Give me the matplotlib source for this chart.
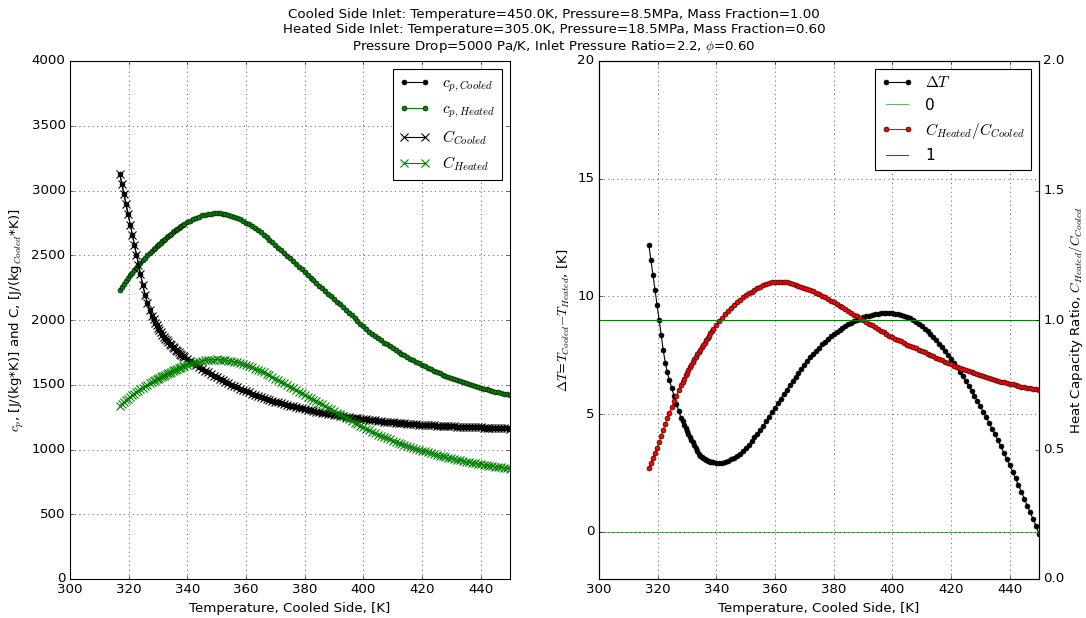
import matplotlib
matplotlib.use('Agg')
import matplotlib.pyplot as plt

plt.style.use('classic')

# temperature on the cooled side, [K]
temperature = [
    317.0, 317.7, 318.4, 319.1, 319.8, 320.5, 321.2, 321.9, 322.6, 323.3,
    324.0, 324.8, 325.6, 326.4, 327.2,
    328, 328.5, 329, 329.5, 330, 330.5, 331, 331.5, 332, 332.5,
    333, 333.5, 334, 334.5, 335, 335.5, 336, 336.5, 337, 337.5,
    338, 338.5, 339,
    340, 341, 342, 343, 344, 345, 346, 347, 348, 349,
    350, 351, 352, 353, 354, 355, 356, 357, 358, 359,
    360, 361, 362, 363, 364, 365, 366, 367, 368, 369,
    370, 371, 372, 373, 374, 375, 376, 377, 378, 379,
    380, 381, 382, 383, 384, 385, 386, 387, 388, 389,
    390, 391, 392, 393, 394, 395, 396, 397, 398, 399,
    400, 401, 402, 403, 404, 405, 406, 407, 408, 409,
    410, 411, 412, 413, 414, 415, 416, 417, 418, 419,
    420, 421, 422, 423, 424, 425, 426, 427, 428, 429,
    430, 431, 432, 433, 434, 435, 436, 437, 438, 439,
    440, 441, 442, 443, 444, 445, 446, 447, 448, 449,
    450]

cp_cooled = [
    3125, 3048, 2970, 2893, 2815, 2737, 2660, 2582, 2505, 2428,
    2352, 2270, 2195, 2130, 2075,
    2030, 2004, 1980, 1959, 1940, 1922, 1905, 1888, 1872, 1857,
    1843, 1830, 1817, 1805, 1793, 1782, 1771, 1760, 1750, 1740,
    1730, 1721, 1712,
    1696, 1680, 1665, 1650, 1636, 1622, 1609, 1595, 1582, 1569,
    1557, 1545, 1534, 1522, 1511, 1500, 1490, 1480, 1470, 1460,
    1450, 1441, 1432, 1423, 1414, 1406, 1398, 1391, 1383, 1376,
    1369, 1363, 1356, 1350, 1344, 1338, 1333, 1327, 1322, 1317,
    1312, 1307, 1302, 1298, 1293, 1288, 1284, 1280, 1276, 1272,
    1268, 1264, 1260, 1257, 1254, 1250, 1247, 1244, 1241, 1238,
    1235, 1232, 1229, 1226, 1224, 1221, 1219, 1216, 1214, 1212,
    1210, 1208, 1206, 1204, 1202, 1200, 1198, 1197, 1195, 1193,
    1192, 1191, 1189, 1188, 1187, 1185, 1184, 1183, 1181, 1180,
    1179, 1178, 1177, 1176, 1175, 1174, 1173, 1172, 1172, 1171,
    1170, 1169, 1168, 1167, 1167, 1166, 1165, 1164, 1164, 1163,
    1162]

cp_heated = [
    2232, 2255, 2278, 2300, 2322, 2344, 2365, 2385, 2405, 2424,
    2443, 2463, 2482, 2500, 2518,
    2536, 2547, 2557, 2568, 2578, 2588, 2598, 2608, 2618, 2628,
    2638, 2648, 2657, 2667, 2676, 2685, 2694, 2703, 2711, 2719,
    2727, 2735, 2742,
    2756, 2768, 2780, 2790, 2799, 2807, 2813, 2818, 2822, 2824,
    2825, 2824, 2821, 2817, 2812, 2806, 2798, 2789, 2778, 2765,
    2752, 2738, 2723, 2708, 2692, 2676, 2659, 2640, 2620, 2600,
    2580, 2559, 2538, 2517, 2496, 2475, 2454, 2432, 2411, 2390,
    2370, 2349, 2328, 2308, 2287, 2266, 2246, 2225, 2204, 2184,
    2163, 2142, 2120, 2099, 2078, 2056, 2035, 2014, 1992, 1971,
    1950, 1930, 1911, 1893, 1875, 1858, 1842, 1826, 1811, 1796,
    1782, 1768, 1754, 1740, 1727, 1714, 1702, 1689, 1677, 1665,
    1653, 1642, 1631, 1620, 1609, 1599, 1589, 1579, 1569, 1560,
    1551, 1543, 1534, 1526, 1518, 1510, 1503, 1496, 1489, 1482,
    1476, 1470, 1464, 1458, 1452, 1447, 1441, 1436, 1431, 1425,
    1420]

# mass fraction of the cooled side is 1.00, so C equals cp there
C_cooled = list(cp_cooled)

C_heated = [
    1339, 1353, 1367, 1380, 1393, 1406, 1419, 1431, 1443, 1454,
    1466, 1478, 1489, 1500, 1511,
    1522, 1528, 1534, 1541, 1547, 1553, 1559, 1565, 1571, 1577,
    1583, 1589, 1594, 1600, 1606, 1611, 1616, 1622, 1627, 1631,
    1636, 1641, 1645,
    1654, 1661, 1668, 1674, 1679, 1684, 1688, 1691, 1693, 1694,
    1695, 1694, 1693, 1690, 1687, 1684, 1679, 1673, 1667, 1659,
    1651, 1643, 1634, 1625, 1615, 1606, 1595, 1584, 1572, 1560,
    1548, 1535, 1523, 1510, 1498, 1485, 1472, 1459, 1447, 1434,
    1422, 1409, 1397, 1385, 1372, 1360, 1348, 1335, 1322, 1310,
    1298, 1285, 1272, 1259, 1247, 1234, 1221, 1208, 1195, 1183,
    1170, 1158, 1147, 1136, 1125, 1115, 1105, 1096, 1087, 1078,
    1069, 1061, 1052, 1044, 1036, 1028, 1021, 1013, 1006, 999,
    992, 985, 979, 972, 965, 959, 953, 947, 941, 936,
    931, 926, 920, 916, 911, 906, 902, 898, 893, 889,
    886, 882, 878, 875, 871, 868, 865, 862, 859, 855,
    852]

delta_T = [
    12.18, 11.55, 10.90, 10.28, 9.63, 9.00, 8.35, 7.72, 7.18, 6.78,
    6.45, 6.10, 5.77, 5.44, 5.12,
    4.84, 4.69, 4.55, 4.42, 4.30, 4.17, 4.05, 3.92, 3.80, 3.67,
    3.55, 3.42, 3.30, 3.23, 3.17, 3.12, 3.08, 3.05, 3.02, 3.00,
    2.98, 2.96, 2.95,
    2.93, 2.92, 2.94, 2.98, 3.03, 3.09, 3.16, 3.24, 3.33, 3.44,
    3.56, 3.70, 3.85, 4.01, 4.17, 4.34, 4.51, 4.70, 4.89, 5.09,
    5.28, 5.47, 5.66, 5.85, 6.04, 6.22, 6.41, 6.59, 6.77, 6.94,
    7.11, 7.27, 7.42, 7.56, 7.70, 7.83, 7.96, 8.08, 8.20, 8.31,
    8.41, 8.50, 8.59, 8.67, 8.75, 8.82, 8.89, 8.95, 9.01, 9.06,
    9.11, 9.15, 9.19, 9.22, 9.25, 9.27, 9.28, 9.29, 9.29, 9.29,
    9.28, 9.27, 9.25, 9.22, 9.18, 9.14, 9.07, 8.99, 8.91, 8.82,
    8.73, 8.63, 8.52, 8.41, 8.29, 8.15, 8.00, 7.84, 7.68, 7.51,
    7.34, 7.17, 6.99, 6.80, 6.61, 6.41, 6.21, 6.00, 5.78, 5.56,
    5.33, 5.10, 4.87, 4.63, 4.39, 4.14, 3.89, 3.63, 3.37, 3.10,
    2.83, 2.55, 2.27, 1.99, 1.70, 1.41, 1.12, 0.84, 0.55, 0.25,
    -0.08]

capacity_ratio = [
    0.428, 0.447, 0.466, 0.486, 0.507, 0.529, 0.552, 0.575, 0.598, 0.620,
    0.641, 0.664, 0.686, 0.708, 0.729,
    0.750, 0.762, 0.774, 0.786, 0.797, 0.808, 0.818, 0.828, 0.838, 0.848,
    0.858, 0.868, 0.877, 0.886, 0.895, 0.904, 0.913, 0.922, 0.931, 0.940,
    0.948, 0.956, 0.964,
    0.980, 0.995, 1.009, 1.022, 1.035, 1.047, 1.058, 1.068, 1.078, 1.087,
    1.095, 1.103, 1.110, 1.117, 1.124, 1.129, 1.134, 1.139, 1.143, 1.145,
    1.147, 1.148, 1.148, 1.147, 1.145, 1.143, 1.140, 1.137, 1.133, 1.129,
    1.125, 1.121, 1.116, 1.111, 1.105, 1.099, 1.093, 1.087, 1.081, 1.075,
    1.069, 1.062, 1.055, 1.049, 1.042, 1.035, 1.028, 1.021, 1.014, 1.007,
    1.000, 0.993, 0.986, 0.979, 0.972, 0.966, 0.959, 0.953, 0.946, 0.940,
    0.934, 0.928, 0.922, 0.917, 0.911, 0.905, 0.900, 0.895, 0.890, 0.885,
    0.880, 0.875, 0.870, 0.865, 0.860, 0.855, 0.849, 0.844, 0.839, 0.834,
    0.829, 0.824, 0.820, 0.815, 0.810, 0.806, 0.802, 0.798, 0.794, 0.790,
    0.786, 0.783, 0.779, 0.776, 0.772, 0.769, 0.766, 0.762, 0.759, 0.756,
    0.754, 0.751, 0.748, 0.746, 0.743, 0.741, 0.739, 0.736, 0.734, 0.732,
    0.730]

title = ('Cooled Side Inlet: Temperature=450.0K, Pressure=8.5MPa, Mass Fraction=1.00\n'
         'Heated Side Inlet: Temperature=305.0K, Pressure=18.5MPa, Mass Fraction=0.60\n'
         r'Pressure Drop=5000 Pa/K, Inlet Pressure Ratio=2.2, $\phi$=0.60')

W, H = 1086, 618
fig = plt.figure(figsize=(W / 80, H / 80), dpi=80, facecolor='white')

# left panel: specific heats and heat capacities
ax = fig.add_axes([70 / W, 39 / H, 440 / W, 518 / H])
ax.plot(temperature, cp_cooled, 'k-', marker='o', ms=4.5, mfc='k', mec='k', label=r'$c_{p,Cooled}$')
ax.plot(temperature, cp_heated, 'g-', marker='o', ms=4.5, mfc='g', mec='k', label=r'$c_{p,Heated}$')
ax.plot(temperature, C_cooled, 'k-', marker='x', ms=7, mew=1.0, mec='k', label=r'$C_{Cooled}$')
ax.plot(temperature, C_heated, 'g-', marker='x', ms=7, mew=1.0, mec='g', label=r'$C_{Heated}$')
ax.set_xlim(300, 450)
ax.set_ylim(0, 4000)
ax.set_xticks(range(300, 451, 20))
ax.set_yticks(range(0, 4001, 500))
ax.grid(True)
ax.set_xlabel('Temperature, Cooled Side, [K]')
ax.set_ylabel(r'$c_p$, [J/(kg*K)] and C, [J/(kg$_{Cooled}$*K)]')
ax.legend(loc='upper right', fontsize=14)

# right panel: temperature difference and heat capacity ratio
ax1 = fig.add_axes([599 / W, 39 / H, 440 / W, 518 / H])
ax1.plot(temperature, delta_T, 'k-', marker='o', ms=4.5, mfc='k', mec='k', label=r'$\Delta T$')
ax1.axhline(0, color='g', alpha=0.6, label='0')
ax1.set_xlim(300, 450)
ax1.set_ylim(-2, 20)
ax1.set_xticks(range(300, 451, 20))
ax1.set_yticks([0, 5, 10, 15, 20])
ax1.grid(True)
ax1.set_xlabel('Temperature, Cooled Side, [K]')
ax1.set_ylabel(r'$\Delta T$=$T_{Cooled}$$-$$T_{Heated}$, [K]')

ax2 = ax1.twinx()
ax2.plot(temperature, capacity_ratio, 'r-', marker='o', ms=4.5, mfc='r', mec='k', label=r'$C_{Heated}/C_{Cooled}$')
ax2.axhline(1, color='g', label='1')
ax2.set_xlim(300, 450)
ax2.set_ylim(0, 2.0)
ax2.set_yticks([0.0, 0.5, 1.0, 1.5, 2.0])
ax2.set_ylabel(r'Heat Capacity Ratio, $C_{Heated}/C_{Cooled}$', labelpad=2)

h1, l1 = ax1.get_legend_handles_labels()
h2, l2 = ax2.get_legend_handles_labels()
ax2.legend(h1 + h2, l1 + l2, loc='upper right', fontsize=14)

fig.text(0.51, 1 - 8 / H, title, ha='center', va='top', fontsize=12, multialignment='center')

fig.savefig('out.png', dpi=80, facecolor='white')
